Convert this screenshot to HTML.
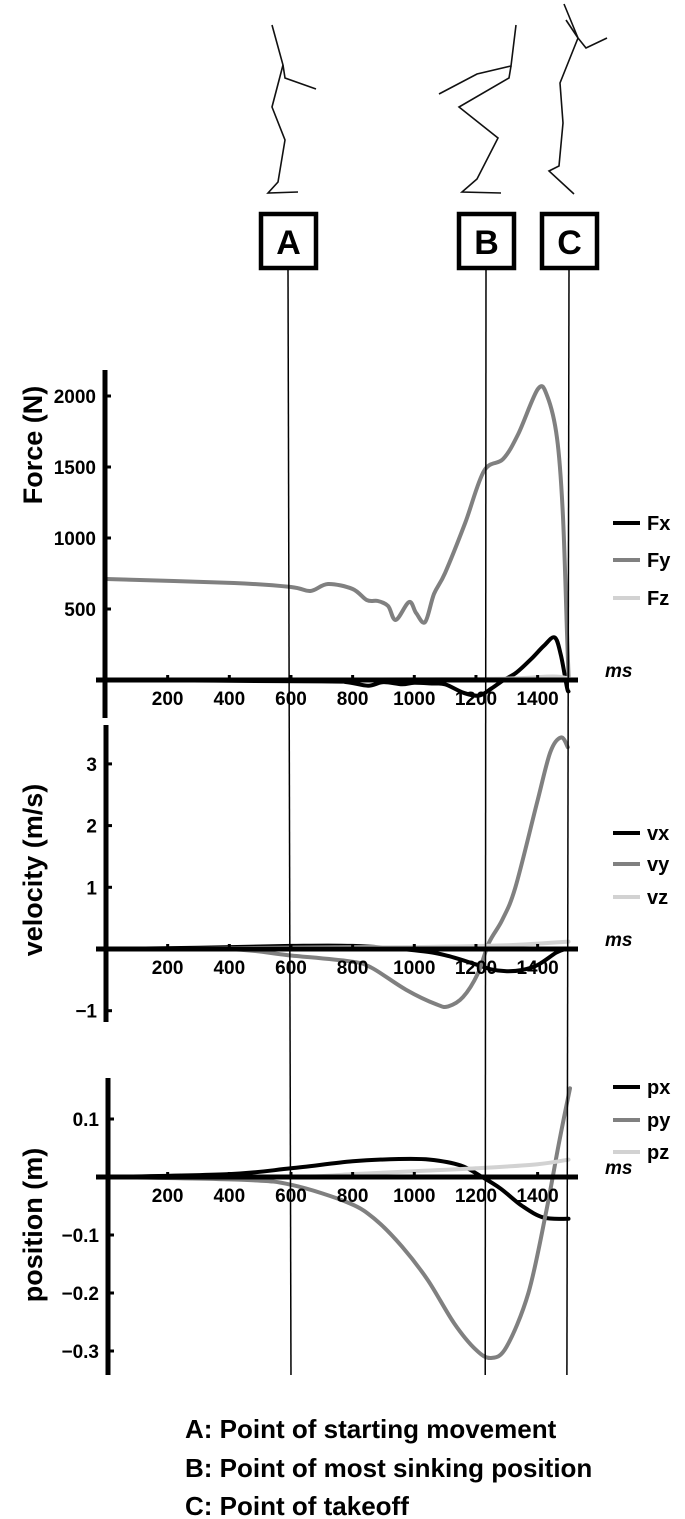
<!DOCTYPE html>
<html><head><meta charset="utf-8"><style>
html,body{margin:0;padding:0;background:#fff;}
svg{display:block;font-family:"Liberation Sans",sans-serif;}
</style></head><body>
<svg id="fig" width="685" height="1519" viewBox="0 0 685 1519" xmlns="http://www.w3.org/2000/svg">
<g fill="none" stroke="#111" stroke-width="1.6">
  <polyline points="272,25 283,65 285,78 316,89"/>
  <polyline points="283,65 272,107 285,140 278,182 268,193 298,192"/>
  <polyline points="516,25 511,66 477,74 439,94"/>
  <polyline points="511,66 509,78 459,107 498,138 477,179 462,192 501,193"/>
  <polyline points="564,4 578,38 586,48 607,38"/>
  <polyline points="566,20 578,38"/>
  <polyline points="578,38 560,83 563,123 559,166 549,171 574,194"/>
</g>
<g id="markers"></g>
<g id="charts"></g>
<g font-weight="bold" font-size="26" fill="#000">
  <text x="185" y="1438">A: Point of starting movement</text>
  <text x="185" y="1477">B: Point of most sinking position</text>
  <text x="185" y="1515">C: Point of takeoff</text>
</g>
</svg>
<script>
// ---- data ----
const markerLabels = ["A","B","C"];
const markerMs = [600, 1230, 1495];
const xTicks = [200,400,600,800,1000,1200,1400];

const fxMs = [0,700,780,850,900,960,1000,1060,1100,1160,1210,1250,1290,1330,1380,1420,1455,1475,1495,1500];
const fxVal = [0,-10,-15,-40,-15,-30,-20,-25,-30,-90,-110,-60,0,50,150,240,300,180,-50,-80];
const fyMs = [0,415,600,663,720,800,846,882,915,940,983,1006,1035,1064,1100,1165,1226,1288,1337,1401,1431,1463,1482,1495,1500];
const fyVal = [711,683,655,627,676,641,563,556,521,423,549,472,408,606,754,1106,1472,1556,1732,2049,2000,1704,1162,352,28];
const fzMs = [0,600,1000,1300,1450,1500];
const fzVal = [0,0,5,10,25,10];
const forceTicks = [500,1000,1500,2000];

const vxMs = [0,300,600,800,1000,1100,1200,1250,1300,1350,1400,1460,1490];
const vxVal = [0,0.02,0.05,0.05,-0.02,-0.1,-0.25,-0.33,-0.36,-0.34,-0.26,-0.06,0];
const vyMs = [0,393,591,790,860,973,1073,1110,1158,1206,1242,1285,1328,1398,1441,1476,1498];
const vyVal = [0,0,-0.1,-0.2,-0.3,-0.66,-0.9,-0.93,-0.78,-0.4,0.1,0.47,1.0,2.37,3.19,3.43,3.27];
const vzMs = [0,600,1000,1300,1500];
const vzVal = [0,0.02,0.03,0.06,0.12];
const velTicks = [-1,1,2,3];

const pxMs = [0,400,600,800,950,1050,1150,1220,1280,1350,1420,1500];
const pxVal = [0,0.005,0.015,0.027,0.031,0.03,0.02,0.0,-0.02,-0.05,-0.07,-0.072];
const pyMs = [0,450,605,789,875,960,1044,1129,1200,1249,1299,1370,1427,1469,1505];
const pyVal = [0,-0.005,-0.014,-0.045,-0.074,-0.12,-0.178,-0.252,-0.298,-0.312,-0.293,-0.2,-0.062,0.058,0.153];
const pzMs = [0,600,800,1000,1200,1400,1500];
const pzVal = [0,0,0.005,0.01,0.015,0.022,0.03];
const posTicks = [-0.3,-0.2,-0.1,0.1];

// ---- helpers ----
const NS = "http://www.w3.org/2000/svg";
const svg = document.getElementById("fig");
const charts = document.getElementById("charts");
function mk(tag, attrs, parent){const e=document.createElementNS(NS,tag);for(const k in attrs)e.setAttribute(k,attrs[k]);parent.appendChild(e);return e;}
const xScale = ms => 106 + ms*0.3083;
function smoothPath(pts){
  let d = "M"+pts[0][0].toFixed(1)+","+pts[0][1].toFixed(1);
  for(let i=0;i<pts.length-1;i++){
    const p0=pts[Math.max(0,i-1)],p1=pts[i],p2=pts[i+1],p3=pts[Math.min(pts.length-1,i+2)];
    const c1x=p1[0]+(p2[0]-p0[0])/6,c1y=p1[1]+(p2[1]-p0[1])/6;
    const c2x=p2[0]-(p3[0]-p1[0])/6,c2y=p2[1]-(p3[1]-p1[1])/6;
    d+=" C"+c1x.toFixed(1)+","+c1y.toFixed(1)+" "+c2x.toFixed(1)+","+c2y.toFixed(1)+" "+p2[0].toFixed(1)+","+p2[1].toFixed(1);
  }
  return d;
}
function chart(cfg){
  const g = mk("g",{},charts);
  
  
  const y = v => cfg.zeroY - v*cfg.pxPerUnit;
  cfg.series.forEach(s=>{
    const pts = s.ms.map((m,i)=>[xScale(m), y(s.val[i])]);
    const p = mk("path",{d:smoothPath(pts),fill:"none",stroke:s.color,"stroke-width":4,"stroke-linejoin":"round","stroke-linecap":"round"},g);
    
    
  });
  const xa = mk("line",{x1:96,x2:578,y1:cfg.zeroY,y2:cfg.zeroY,stroke:"#000","stroke-width":5},g);
  
  
  const ya = mk("line",{x1:cfg.axisX,x2:cfg.axisX,y1:cfg.top,y2:cfg.bottom,stroke:"#000","stroke-width":5},g);
  
  
  xTicks.forEach(t=>{
    const tk = mk("line",{x1:xScale(t),x2:xScale(t),y1:cfg.zeroY-5,y2:cfg.zeroY,stroke:"#000","stroke-width":3},g);
    
    
    const tl = mk("text",{x:xScale(t),y:cfg.zeroY+25,"text-anchor":"middle","font-size":19,"font-weight":"bold"},g);
    tl.textContent = t;
    
    
  });
  cfg.ticks.forEach((t,i)=>{
    const tk = mk("line",{x1:cfg.axisX,x2:cfg.axisX+6,y1:y(t),y2:y(t),stroke:"#000","stroke-width":3},g);
    
    
    const tl = mk("text",{x:cfg.axisX-9,y:y(t)+7,"text-anchor":"end","font-size":19,"font-weight":"bold"},g);
    tl.textContent = cfg.tickLabels[i];
    
    
  });
  const ms = mk("text",{x:605,y:cfg.zeroY-3,"font-size":19,"font-weight":"bold","font-style":"italic"},g);
  ms.textContent = "ms";
  
  
  const ttl = mk("text",{x:0,y:0,"font-size":27,"font-weight":"bold","text-anchor":"middle",transform:"translate(42,"+cfg.titleY+") rotate(-90)"},g);
  ttl.textContent = cfg.title;
  
  
  cfg.series.forEach((s,i)=>{
    const ly = cfg.legendY[i];
    const ll = mk("line",{x1:613,x2:640,y1:ly,y2:ly,stroke:s.color,"stroke-width":4},g);
    
    
    const lt = mk("text",{x:647,y:ly+7,"font-size":20,"font-weight":"bold"},g);
    lt.textContent = s.name;
    
    
  });
}
const BLK="#000", GRY="#808080", LGT="#d2d2d2";
chart({name:"force-chart",zeroY:680,pxPerUnit:71/500,axisX:105,top:370,bottom:718,ticks:forceTicks,tickLabels:forceTicks.map(String),
  title:"Force (N)",titleY:445,legendY:[523,560,598],
  series:[{name:"Fx",ms:fxMs,val:fxVal,color:BLK},{name:"Fy",ms:fyMs,val:fyVal,color:GRY},{name:"Fz",ms:fzMs,val:fzVal,color:LGT}]});
chart({name:"velocity-chart",zeroY:949,pxPerUnit:61.7,axisX:106,top:725,bottom:1022,ticks:velTicks,tickLabels:velTicks.map(v=>v<0?"\u2212"+(-v):String(v)),
  title:"velocity  (m/s)",titleY:870,legendY:[833,864,897],
  series:[{name:"vx",ms:vxMs,val:vxVal,color:BLK},{name:"vy",ms:vyMs,val:vyVal,color:GRY},{name:"vz",ms:vzMs,val:vzVal,color:LGT}]});
chart({name:"position-chart",zeroY:1177,pxPerUnit:580,axisX:108,top:1078,bottom:1375,ticks:posTicks,tickLabels:posTicks.map(v=>v<0?"\u2212"+(-v):String(v)),
  title:"position (m)",titleY:1225,legendY:[1087,1120,1152],
  series:[{name:"px",ms:pxMs,val:pxVal,color:BLK},{name:"py",ms:pyMs,val:pyVal,color:GRY},{name:"pz",ms:pzMs,val:pzVal,color:LGT}]});
const mg = document.getElementById("markers");
svg.appendChild(mg);
const markerTopX = [288,486,569];
markerLabels.forEach((lab,i)=>{
  const xb = markerTopX[i], xe = xScale(markerMs[i]);
  const ln = mk("line",{x1:xb,y1:269,x2:xe,y2:1375,stroke:"#000","stroke-width":1.5},mg);
  
  
  const bx = mk("rect",{x:xb-27,y:214,width:55,height:54,fill:"#fff",stroke:"#000","stroke-width":4.5},mg);
  
  
  const tx = mk("text",{x:xb+0.5,y:254,"text-anchor":"middle","font-size":34,"font-weight":"bold"},mg);
  tx.textContent = lab;
  
  
});
</script>
</body></html>
